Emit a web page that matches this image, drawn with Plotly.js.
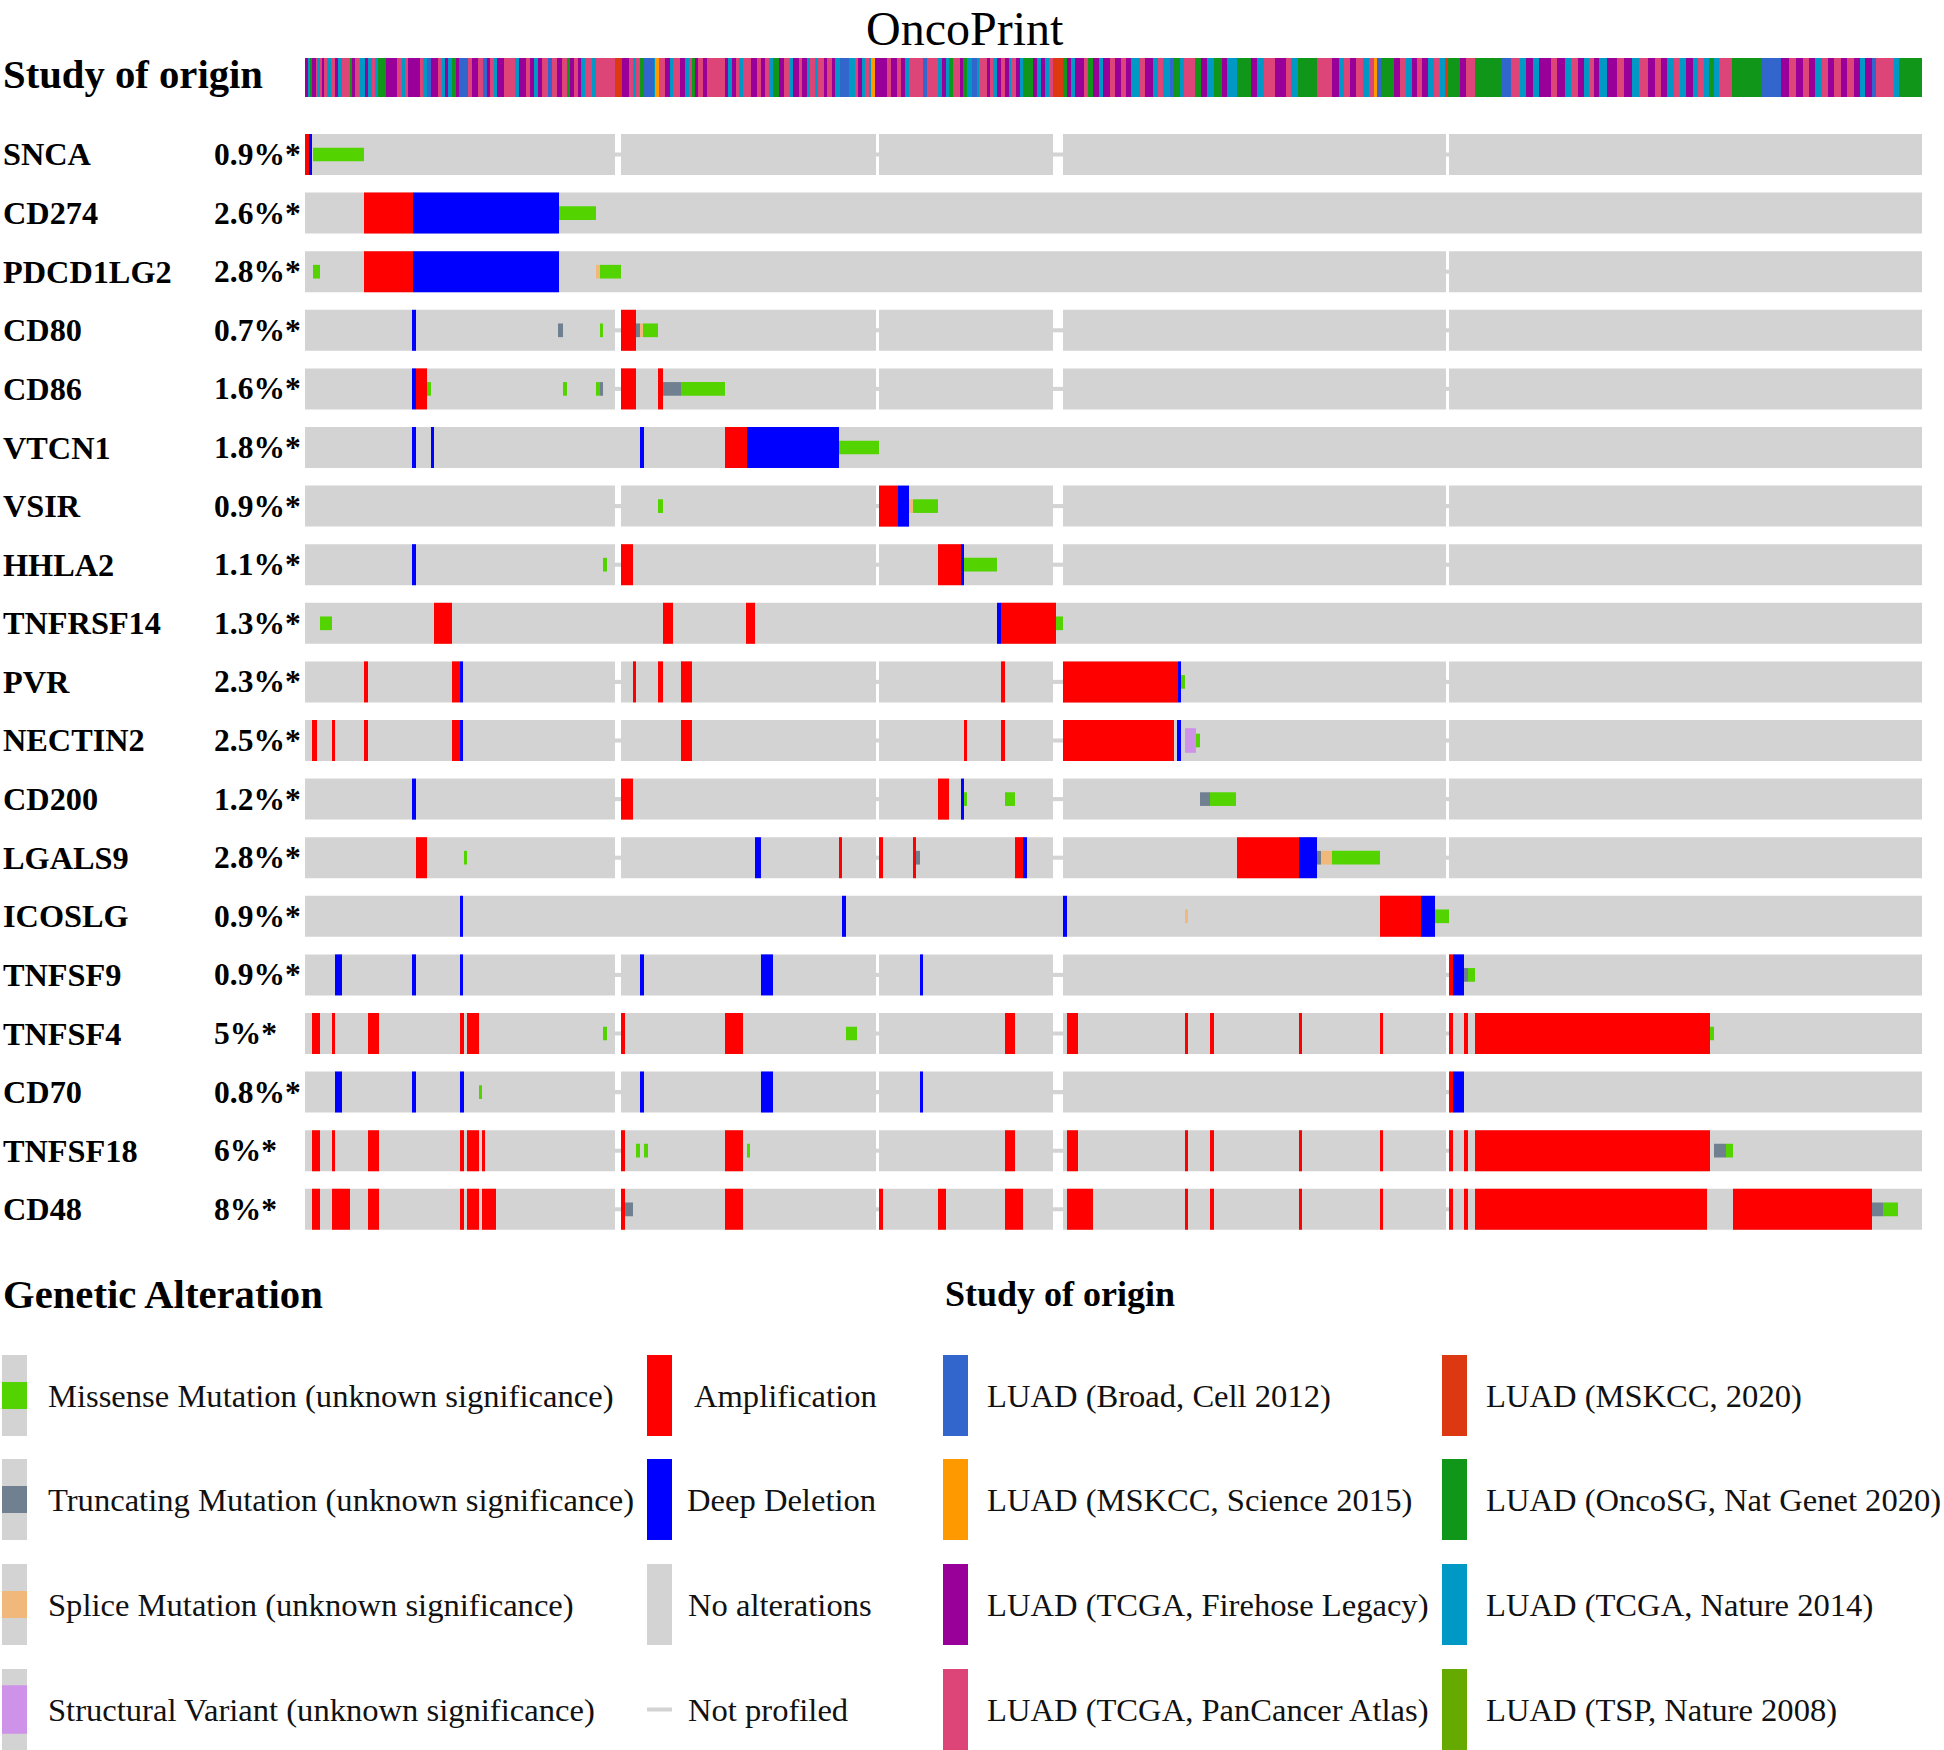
<!DOCTYPE html>
<html><head><meta charset="utf-8">
<script src="https://cdn.plot.ly/plotly-3.0.1.min.js"></script>
<style>html,body{margin:0;padding:0;background:#fff}#chart{width:1944px;height:1750px}</style>
</head><body><div id="chart"></div>
<script>
// ---------------- DATA ----------------
const GENES = ["SNCA","CD274","PDCD1LG2","CD80","CD86","VTCN1","VSIR","HHLA2","TNFRSF14","PVR","NECTIN2","CD200","LGALS9","ICOSLG","TNFSF9","TNFSF4","CD70","TNFSF18","CD48"];
const PCT = ["0.9%*","2.6%*","2.8%*","0.7%*","1.6%*","1.8%*","0.9%*","1.1%*","1.3%*","2.3%*","2.5%*","1.2%*","2.8%*","0.9%*","0.9%*","5%*","0.8%*","6%*","8%*"];
const N_SAMPLES = 1617; // sample columns (sorted order)

// sample ranges that are not profiled in some genes
const NP_RANGES = [[310,316],[571,574],[748,758],[1141,1144]];
// which not-profiled ranges apply to each gene (index into NP_RANGES)
const GENE_NP = [[0,1,2,3],[],[3],[0,1,2,3],[0,1,2,3],[],[0,1,2,3],[0,1,2,3],[],[0,1,2,3],[0,1,2,3],[0,1,2,3],[0,1,2,3],[],[0,1,2,3],[0,1,2,3],[0,1,2,3],[0,1,2,3],[0,1,2,3]];

// alterations: [gene, first sample, last sample]
const AMP = [
 ["SNCA",0,4],["CD274",59,108],["PDCD1LG2",59,108],["CD80",316,331],
 ["CD86",111,122],["CD86",316,331],["CD86",353,358],
 ["VTCN1",420,442],["VSIR",574,593],["HHLA2",316,328],["HHLA2",633,656],
 ["TNFRSF14",129,147],["TNFRSF14",358,368],["TNFRSF14",441,450],["TNFRSF14",696,751],
 ["PVR",59,63],["PVR",147,155],["PVR",328,331],["PVR",353,358],["PVR",376,387],["PVR",696,700],["PVR",758,873],
 ["NECTIN2",7,12],["NECTIN2",27,30],["NECTIN2",59,63],["NECTIN2",147,155],["NECTIN2",376,387],["NECTIN2",659,662],["NECTIN2",696,700],["NECTIN2",758,869],
 ["CD200",316,328],["CD200",633,644],
 ["LGALS9",111,122],["LGALS9",534,537],["LGALS9",574,578],["LGALS9",608,611],["LGALS9",710,718],["LGALS9",932,994],
 ["ICOSLG",1075,1116],["TNFSF9",1144,1148],
 ["TNFSF4",7,15],["TNFSF4",27,30],["TNFSF4",63,74],["TNFSF4",155,159],["TNFSF4",162,174],["TNFSF4",316,320],["TNFSF4",420,438],["TNFSF4",700,710],["TNFSF4",762,773],["TNFSF4",880,883],["TNFSF4",905,909],["TNFSF4",994,997],["TNFSF4",1075,1078],["TNFSF4",1144,1148],["TNFSF4",1159,1163],["TNFSF4",1170,1405],
 ["CD70",1144,1148],
 ["TNFSF18",7,15],["TNFSF18",27,30],["TNFSF18",63,74],["TNFSF18",155,159],["TNFSF18",162,174],["TNFSF18",177,180],["TNFSF18",316,320],["TNFSF18",420,438],["TNFSF18",700,710],["TNFSF18",762,773],["TNFSF18",880,883],["TNFSF18",905,909],["TNFSF18",994,997],["TNFSF18",1075,1078],["TNFSF18",1144,1148],["TNFSF18",1159,1163],["TNFSF18",1170,1405],
 ["CD48",7,15],["CD48",27,45],["CD48",63,74],["CD48",155,159],["CD48",162,174],["CD48",177,191],["CD48",316,320],["CD48",420,438],["CD48",574,578],["CD48",633,641],["CD48",700,718],["CD48",762,788],["CD48",880,883],["CD48",905,909],["CD48",994,997],["CD48",1075,1078],["CD48",1144,1148],["CD48",1159,1163],["CD48",1170,1402],["CD48",1428,1567]
];
const DEL = [
 ["SNCA",4,7],["CD274",108,254],["PDCD1LG2",108,254],["CD80",107,111],["CD86",107,111],
 ["VTCN1",107,111],["VTCN1",126,129],["VTCN1",335,339],["VTCN1",442,534],
 ["VSIR",593,604],["HHLA2",107,111],["HHLA2",656,659],["TNFRSF14",692,696],
 ["PVR",155,158],["PVR",873,876],["NECTIN2",155,158],["NECTIN2",872,876],
 ["CD200",107,111],["CD200",656,659],
 ["LGALS9",450,456],["LGALS9",718,722],["LGALS9",994,1012],
 ["ICOSLG",155,158],["ICOSLG",537,541],["ICOSLG",758,762],["ICOSLG",1116,1130],
 ["TNFSF9",30,37],["TNFSF9",107,111],["TNFSF9",155,158],["TNFSF9",335,339],["TNFSF9",456,468],["TNFSF9",615,618],["TNFSF9",1148,1159],
 ["CD70",30,37],["CD70",107,111],["CD70",155,159],["CD70",335,339],["CD70",456,468],["CD70",615,618],["CD70",1148,1159]
];
const MISSENSE = [
 ["SNCA",8,59],["CD274",254,291],["PDCD1LG2",8,15],["PDCD1LG2",295,316],
 ["CD80",295,298],["CD80",338,353],
 ["CD86",122,126],["CD86",258,262],["CD86",291,295],["CD86",376,420],
 ["VTCN1",534,574],["VSIR",353,358],["VSIR",608,633],["HHLA2",298,302],["HHLA2",659,692],
 ["TNFRSF14",15,27],["TNFRSF14",751,758],["PVR",876,880],["NECTIN2",891,895],
 ["CD200",659,662],["CD200",700,710],["CD200",905,931],
 ["LGALS9",159,162],["LGALS9",1027,1075],["ICOSLG",1130,1144],["TNFSF9",1163,1170],
 ["TNFSF4",298,302],["TNFSF4",541,552],["TNFSF4",1405,1409],["CD70",174,177],
 ["TNFSF18",331,335],["TNFSF18",339,343],["TNFSF18",442,445],["TNFSF18",1421,1428],
 ["CD48",1578,1593]
];
const TRUNCATING = [
 ["CD80",253,258],["CD80",331,335],["CD86",295,298],["CD86",358,376],["CD200",895,905],
 ["LGALS9",611,615],["LGALS9",1012,1016],["TNFSF9",1159,1163],["TNFSF18",1409,1421],
 ["CD48",320,328],["CD48",1567,1578]
];
const SPLICE = [["PDCD1LG2",291,295],["CD80",335,338],["VSIR",604,608],["LGALS9",1016,1027],["ICOSLG",880,883]];
const STRUCTURAL = [["NECTIN2",880,891]];

// study of origin: runs [first sample, study code]
const STUDY_CODES = ["B","R","O","G","P","C","K","L"];
const STUDY_NAMES = ["LUAD (Broad, Cell 2012)","LUAD (MSKCC, 2020)","LUAD (MSKCC, Science 2015)","LUAD (OncoSG, Nat Genet 2020)","LUAD (TCGA, Firehose Legacy)","LUAD (TCGA, Nature 2014)","LUAD (TCGA, PanCancer Atlas)","LUAD (TSP, Nature 2008)"];
const STUDY_RUNS = [
 [0,'P'],[3,'C'],[5,'G'],[7,'P'],[11,'K'],[12,'C'],[15,'K'],[17,'P'],[19,'K'],[22,'C'],[26,'K'],[30,'P'],[33,'C'],[37,'K'],[45,'G'],[47,'P'],[50,'K'],[55,'C'],[60,'P'],[63,'C'],[67,'K'],[70,'C'],[73,'G'],[81,'P'],[92,'K'],[97,'C'],[100,'K'],[103,'P'],[115,'K'],[118,'C'],[122,'B'],[126,'P'],[133,'K'],[137,'C'],[140,'P'],[143,'C'],[147,'G'],[151,'P'],[154,'B'],[163,'K'],[167,'P'],[173,'K'],[178,'B'],[182,'P'],[185,'K'],[189,'C'],[192,'P'],[199,'K'],[210,'C'],[214,'P'],[221,'K'],[225,'P'],[229,'C'],[233,'P'],[237,'K'],[243,'B'],[247,'K'],[252,'P'],[257,'K'],[262,'G'],[265,'P'],[269,'K'],[273,'P'],[276,'C'],[280,'K'],[287,'C'],[291,'K'],[310,'R'],[317,'P'],[324,'K'],[328,'C'],[331,'K'],[335,'G'],[339,'B'],[349,'C'],[350,'O'],[354,'K'],[360,'P'],[365,'C'],[368,'K'],[375,'P'],[380,'C'],[384,'K'],[387,'G'],[390,'P'],[393,'K'],[398,'P'],[402,'K'],
 [420,'P'],[423,'C'],[427,'P'],[431,'K'],[434,'C'],[438,'K'],[446,'P'],[452,'K'],[456,'P'],[460,'K'],[464,'C'],[468,'G'],[474,'P'],[479,'K'],[485,'C'],[488,'P'],[494,'K'],[497,'P'],[502,'C'],[505,'K'],[510,'C'],[513,'K'],[519,'P'],[522,'K'],[527,'P'],[530,'C'],[535,'B'],[544,'C'],[550,'K'],[553,'P'],[557,'C'],[560,'K'],[564,'C'],[566,'O'],[570,'P'],[582,'K'],[586,'P'],[592,'K'],[596,'P'],[600,'C'],[604,'K'],[618,'B'],[622,'K'],[633,'C'],[637,'P'],[641,'C'],[644,'G'],[648,'K'],[655,'P'],[658,'G'],[662,'C'],[667,'B'],[672,'C'],[674,'K'],[682,'P'],[685,'K'],[688,'C'],[692,'P'],[696,'K'],[700,'P'],[704,'C'],[706,'K'],[711,'P'],[715,'C'],[718,'G'],[728,'P'],[732,'C'],[736,'P'],[740,'C'],[744,'K'],[748,'R'],[758,'G'],[762,'P'],[766,'C'],[770,'P'],[779,'K'],[783,'G'],[788,'P'],[794,'C'],[798,'P'],[805,'K'],
 [810,'P'],[816,'K'],[821,'P'],[826,'C'],[835,'K'],[840,'P'],[848,'C'],[853,'K'],[858,'C'],[865,'B'],[869,'G'],[875,'C'],[879,'K'],[890,'G'],[896,'P'],[902,'C'],[909,'G'],[917,'P'],[922,'C'],[932,'G'],[946,'P'],[952,'C'],[959,'K'],[970,'P'],[981,'K'],[986,'C'],[993,'G'],[1012,'K'],[1027,'P'],[1034,'C'],[1039,'K'],[1045,'P'],[1051,'K'],[1058,'C'],[1064,'K'],[1069,'O'],[1072,'B'],[1076,'G'],[1089,'P'],[1095,'K'],[1101,'C'],[1107,'P'],[1112,'K'],[1117,'P'],[1123,'C'],[1129,'K'],[1135,'C'],[1140,'R'],[1143,'G'],[1155,'P'],[1161,'K'],[1170,'G'],[1196,'B'],[1206,'K'],[1215,'C'],[1221,'P'],[1228,'C'],[1234,'P'],[1246,'K'],[1252,'P'],[1260,'C'],[1266,'K'],[1273,'P'],[1279,'C'],[1284,'K'],[1289,'P'],[1294,'C'],[1302,'P'],[1312,'K'],[1319,'P'],[1327,'C'],[1334,'K'],[1343,'P'],[1350,'K'],[1356,'P'],[1362,'C'],[1369,'K'],[1375,'C'],[1381,'P'],[1388,'C'],[1393,'K'],[1399,'C'],[1404,'G'],[1409,'C'],[1414,'K'],[1427,'G'],[1457,'B'],[1476,'P'],[1484,'K'],[1491,'P'],[1498,'K'],[1504,'P'],[1510,'C'],[1517,'K'],[1523,'P'],[1529,'K'],[1536,'P'],[1542,'K'],[1549,'P'],[1555,'C'],[1560,'P'],[1567,'B'],[1571,'K'],[1589,'C'],[1594,'G']
];

// ---------------- STYLE ----------------
const W = 1944, H = 1750;
const SERIF = "Liberation Serif, Times New Roman, serif";
const COL = {amp:"#ff0000", del:"#0000ff", mis:"#53d400", trunc:"#708090", splice:"#f0b87b", sv:"#ce92e8", none:"#d3d3d3"};
const STUDY_COLORS = {B:"#3366cc", R:"#dc3912", O:"#ff9900", G:"#109618", P:"#990099", C:"#0099c6", K:"#dd4477", L:"#66aa00"};
const ROW_T = 0.70;            // full cell thickness (row units)
const MUT_T = ROW_T/3;         // mutation thickness
const SV_T = ROW_T*0.6;

const gi = g => GENES.indexOf(g);
function segTrace(list, color, thick){
  return {type:'bar', orientation:'h', xaxis:'x', yaxis:'y',
    y:list.map(s=>gi(s[0])), base:list.map(s=>s[1]), x:list.map(s=>s[2]-s[1]),
    width:thick, marker:{color:color, line:{width:0}}, hoverinfo:'skip'};
}

// background (profiled) segments and not-profiled segments
const bg = [], np = [];
GENES.forEach((g,i)=>{
  const gaps = GENE_NP[i].map(k=>NP_RANGES[k]).sort((a,b)=>a[0]-b[0]);
  let cur = 0;
  gaps.forEach(r=>{ if(r[0]>cur) bg.push([g,cur,r[0]]); np.push([g,r[0],r[1]]); cur = r[1]; });
  if(cur<N_SAMPLES) bg.push([g,cur,N_SAMPLES]);
});

const traces = [
  segTrace(bg, COL.none, ROW_T),
  segTrace(np, COL.none, 0.07),
  segTrace(AMP, COL.amp, ROW_T),
  segTrace(DEL, COL.del, ROW_T),
  segTrace(STRUCTURAL, COL.sv, SV_T),
  segTrace(MISSENSE, COL.mis, MUT_T),
  segTrace(TRUNCATING, COL.trunc, MUT_T),
  segTrace(SPLICE, COL.splice, MUT_T)
];
// study of origin track
const sStart = STUDY_RUNS.map(r=>r[0]);
const sEnd = STUDY_RUNS.map((r,k)=> k<STUDY_RUNS.length-1 ? STUDY_RUNS[k+1][0] : N_SAMPLES);
traces.push({type:'bar', orientation:'h', xaxis:'x', yaxis:'y2',
  y:STUDY_RUNS.map(()=>0), base:sStart, x:sEnd.map((e,k)=>e-sStart[k]), width:1,
  marker:{color:STUDY_RUNS.map(r=>STUDY_COLORS[r[1]]), line:{width:0}}, hoverinfo:'skip'});

// ---------------- ANNOTATIONS / LEGEND ----------------
const px = x => x/W, py = y => 1 - y/H;
const ann = [], shapes = [];
ann.push({xref:'paper', yref:'paper', x:px(965), y:1, xanchor:'center', yanchor:'top', showarrow:false,
  text:'OncoPrint', font:{family:SERIF, size:48, color:'#000'}});
GENES.forEach((g,i)=>{
  ann.push({xref:'paper', yref:'y', x:px(1), y:i, xanchor:'left', yanchor:'middle', showarrow:false,
    text:'<b>'+g+'</b>', font:{family:SERIF, size:32.3, color:'#000'}});
  ann.push({xref:'paper', yref:'y', x:px(212), y:i, xanchor:'left', yanchor:'middle', showarrow:false,
    text:'<b>'+PCT[i]+'</b>', font:{family:SERIF, size:31.5, color:'#000'}});
});
ann.push({xref:'paper', yref:'y2', x:px(1), y:0, yshift:3, xanchor:'left', yanchor:'middle', showarrow:false,
  text:'<b>Study of origin</b>', font:{family:SERIF, size:40.7, color:'#000'}});
ann.push({xref:'paper', yref:'paper', x:px(1), y:py(1294), xanchor:'left', yanchor:'middle', showarrow:false,
  text:'<b>Genetic Alteration</b>', font:{family:SERIF, size:40.7, color:'#000'}});
ann.push({xref:'paper', yref:'paper', x:px(943), y:py(1294), xanchor:'left', yanchor:'middle', showarrow:false,
  text:'<b>Study of origin</b>', font:{family:SERIF, size:36, color:'#000'}});

const ROW_TOPS = [1355, 1459, 1564, 1669];
const SW_H = 81, SW_W = 25;
function rect(x0,y0,x1,y1,color){ shapes.push({type:'rect', xref:'paper', yref:'paper', x0:px(x0), x1:px(x1), y0:py(y1), y1:py(y0), fillcolor:color, line:{width:0}, layer:'above'}); }
function label(x, yc, text){ ann.push({xref:'paper', yref:'paper', x:px(x), y:py(yc), xanchor:'left', yanchor:'middle', showarrow:false, text:text, font:{family:SERIF, size:32.6, color:'#111'}}); }

const GA_LEFT = [["Missense Mutation (unknown significance)", COL.mis, 1/3, 2/3],
                 ["Truncating Mutation (unknown significance)", COL.trunc, 1/3, 2/3],
                 ["Splice Mutation (unknown significance)", COL.splice, 1/3, 2/3],
                 ["Structural Variant (unknown significance)", COL.sv, 0.2, 0.8]];
GA_LEFT.forEach((it,k)=>{
  const t = ROW_TOPS[k];
  rect(2, t, 2+SW_W, t+SW_H, COL.none);
  rect(2, t+SW_H*it[2], 2+SW_W, t+SW_H*it[3], it[1]);
  label(45.5, t+SW_H/2, it[0]);
});
const GA_RIGHT = [["Amplification", COL.amp, 692], ["Deep Deletion", COL.del, 685], ["No alterations", COL.none, 686], ["Not profiled", null, 686]];
GA_RIGHT.forEach((it,k)=>{
  const t = ROW_TOPS[k];
  if(it[1]) rect(647, t, 647+SW_W, t+SW_H, it[1]);
  else rect(647, t+SW_H/2-2, 647+SW_W, t+SW_H/2+2, COL.none);
  label(it[2], t+SW_H/2, it[0]);
});
const STUDY_LEG = [[0,943],[2,943],[4,943],[6,943],[1,1442],[3,1442],[5,1442],[7,1442]];
STUDY_LEG.forEach((it,k)=>{
  const t = ROW_TOPS[k%4];
  const code = STUDY_CODES[it[0]];
  rect(it[1], t, it[1]+SW_W, t+SW_H, STUDY_COLORS[code]);
  label(it[1]+42, t+SW_H/2, STUDY_NAMES[it[0]]);
});

const layout = {
  width:W, height:H, margin:{l:0,r:0,t:0,b:0}, paper_bgcolor:'#fff', plot_bgcolor:'rgba(0,0,0,0)',
  showlegend:false, barmode:'overlay',
  xaxis:{domain:[305/W, 1922/W], range:[0, N_SAMPLES], visible:false, fixedrange:true},
  yaxis:{domain:[1-1238.6/H, 1-125.2/H], range:[GENES.length-0.5, -0.5], visible:false, fixedrange:true},
  yaxis2:{domain:[1-97/H, 1-58/H], range:[-0.5, 0.5], visible:false, anchor:'x', fixedrange:true},
  annotations:ann, shapes:shapes
};
Plotly.newPlot('chart', traces, layout, {staticPlot:true, displayModeBar:false});
</script>
</body></html>
